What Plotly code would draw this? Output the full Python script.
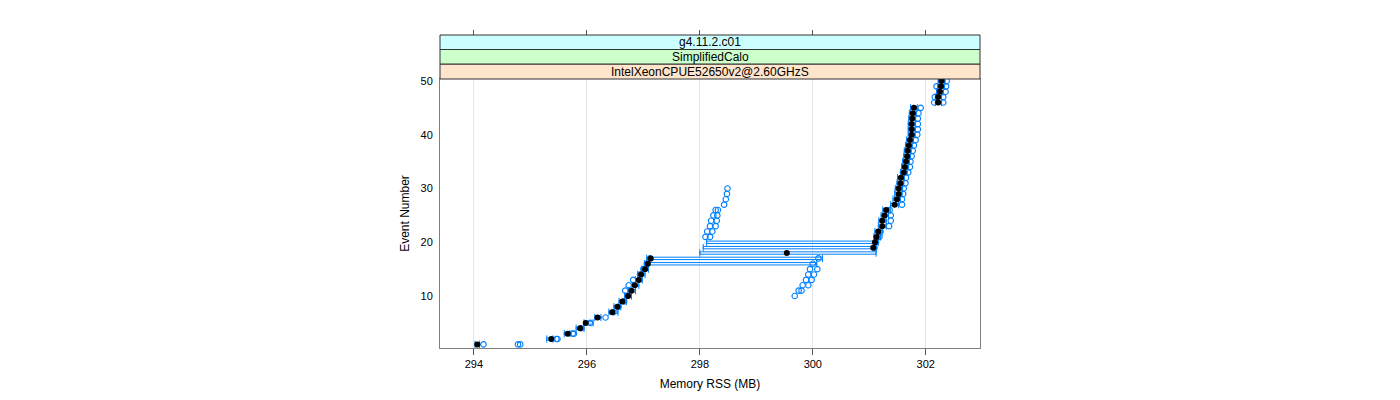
import plotly.graph_objects as go

# ---------------------------------------------------------------------------
# Data
# ---------------------------------------------------------------------------

events = list(range(1, 51))

# reference run (black filled points)
rss_black = [
    294.06, 295.37, 295.66, 295.88, 295.98, 296.19, 296.45, 296.54, 296.63, 296.73,
    296.79, 296.85, 296.92, 296.96, 297.03, 297.08, 297.13, 299.54, 301.07, 301.10,
    301.13, 301.16, 301.23, 301.23, 301.27, 301.30, 301.45, 301.49, 301.52, 301.52,
    301.55, 301.56, 301.61, 301.63, 301.65, 301.67, 301.68, 301.70, 301.72, 301.75,
    301.75, 301.75, 301.76, 301.77, 301.79, 302.22, 302.22, 302.25, 302.27, 302.28,
]

# error bar limits
rss_low = [
    294.02, 295.29, 295.60, 295.81, 295.95, 296.14, 296.39, 296.48, 296.57, 296.67,
    296.74, 296.80, 296.86, 296.90, 296.97, 297.02, 297.06, 298.00, 298.06, 298.12,
    301.08, 301.10, 301.16, 301.17, 301.21, 301.24, 301.38, 301.42, 301.45, 301.46,
    301.49, 301.50, 301.55, 301.57, 301.59, 301.61, 301.62, 301.64, 301.66, 301.69,
    301.69, 301.69, 301.70, 301.71, 301.73, 302.17, 302.17, 302.19, 302.21, 302.22,
]
rss_high = [
    294.10, 295.40, 295.70, 295.95, 296.11, 296.25, 296.55, 296.60, 296.70, 296.79,
    296.86, 296.92, 296.98, 297.03, 297.09, 300.07, 300.17, 301.12, 301.13, 301.16,
    301.20, 301.23, 301.30, 301.30, 301.34, 301.37, 301.52, 301.55, 301.58, 301.59,
    301.61, 301.62, 301.67, 301.69, 301.71, 301.73, 301.74, 301.76, 301.78, 301.81,
    301.81, 301.81, 301.82, 301.83, 301.85, 302.28, 302.28, 302.31, 302.33, 302.34,
]

# other runs (blue open circles), None where no point is visible
N = None
rss_run1 = [
    294.17, 295.46, 295.75, 295.90, 296.06, 296.33, 296.47, 296.56, 296.66, 296.72,
    296.68, 296.74, 296.82, 296.94, 297.00, 297.06, 297.12, N, 301.09, 301.12,
    301.18, 301.20, 301.35, 301.38, 301.38, 301.36, 301.58, 301.58, 301.60, 301.61,
    301.64, 301.65, 301.69, 301.72, 301.73, 301.75, 301.77, 301.79, 301.82, 301.85,
    301.86, 301.86, 301.86, 301.87, 301.91, 302.31, 302.31, 302.35, 302.36, 302.37,
]
rss_run2 = [
    294.78, 295.48, 295.77, N, N, N, N, N, N, 299.68,
    299.75, 299.82, 299.88, 299.92, 299.95, 300.00, 300.10, N, N, N,
    298.10, 298.13, 298.18, 298.20, 298.24, 298.28, 298.43, 298.46, 298.48, 298.49,
    N, N, N, N, N, N, N, N, N, N,
    N, N, N, N, N, 302.15, 302.16, N, 302.19, N,
]
rss_run3 = [
    294.82, N, N, N, N, N, N, N, N, N,
    299.80, 299.92, 299.98, 300.02, 300.08, N, N, N, N, N,
    298.18, 298.22, 298.28, 298.30, 298.31, 298.32, N, N, N, N,
    N, N, N, N, N, N, N, N, N, N,
    N, N, N, N, N, N, N, N, N, N,
]

x_ticks = [294, 296, 298, 300, 302]
y_ticks = [10, 20, 30, 40, 50]
strip_labels = ["IntelXeonCPUE52650v2@2.60GHzS", "SimplifiedCalo", "g4.11.2.c01"]

# ---------------------------------------------------------------------------
# Figure
# ---------------------------------------------------------------------------

BLUE = "#0080ff"
FONT = "Liberation Sans, Arial, sans-serif"
OFF = 8                         # page body margin
TOP, BOTTOM = 30 - OFF, 348 - OFF   # figure rows of the plotting area


def p(ypix):
    # screen pixel row -> paper fraction
    return (BOTTOM - (ypix - OFF)) / (BOTTOM - TOP)


fig = go.Figure()

err_plus = [h - b for h, b in zip(rss_high, rss_black)]
err_minus = [b - l for b, l in zip(rss_black, rss_low)]

# error bars drawn as two thin parallel bars
for dy in (0.22, -0.22):
    fig.add_trace(go.Scatter(
        x=rss_black, y=[e + dy for e in events], mode="markers",
        marker=dict(size=1, color="rgba(0,0,0,0)"),
        error_x=dict(type="data", symmetric=False, array=err_plus, arrayminus=err_minus,
                     color=BLUE, thickness=1, width=2.5),
        hoverinfo="skip", showlegend=False,
    ))

for run in (rss_run1, rss_run2, rss_run3):
    fig.add_trace(go.Scatter(
        x=run, y=events, mode="markers",
        marker=dict(symbol="circle-open", size=5.5, color=BLUE, line=dict(width=1.1, color=BLUE)),
        showlegend=False,
    ))

fig.add_trace(go.Scatter(
    x=rss_black, y=events, mode="markers",
    marker=dict(symbol="circle", size=6, color="black"),
    showlegend=False,
))

# dummy trace so the top tick axis is drawn
fig.add_trace(go.Scatter(x=[x_ticks[0]], y=[None], xaxis="x2", yaxis="y",
                         mode="markers", showlegend=False, hoverinfo="skip"))

# strips above the panel
strip_cols = ["#ffe5cc", "#ccffcc", "#ccffff"]
strip_edges = [(79, 64), (64, 49.5), (49.5, 35)]
for label, col, (b, t) in zip(strip_labels, strip_cols, strip_edges):
    fig.add_shape(type="rect", xref="paper", yref="paper", x0=0, x1=1, y0=p(b), y1=p(t),
                  fillcolor=col, line=dict(color="#333333", width=1), layer="above")
    fig.add_annotation(text=label, xref="paper", yref="paper", x=0.5, y=(p(b) + p(t)) / 2,
                       showarrow=False, font=dict(size=12, color="black", family=FONT),
                       yanchor="middle")

fig.update_layout(
    width=1400, height=400,
    margin=dict(l=440 - OFF, r=420 + OFF, t=TOP, b=400 - BOTTOM),
    paper_bgcolor="white", plot_bgcolor="white",
    font=dict(family=FONT, size=11, color="black"),
    xaxis=dict(
        range=[293.40, 302.96], tickvals=x_ticks, ticks="outside", ticklen=6,
        tickcolor="#555555", showgrid=True, gridcolor="#e6e6e6", gridwidth=1,
        zeroline=False, showline=True, mirror=True, linecolor="#808080", linewidth=1,
        title=dict(text="Memory RSS (MB)", font=dict(size=12), standoff=10),
        tickfont=dict(size=11),
    ),
    xaxis2=dict(
        overlaying="x", matches="x", anchor="free", position=p(35), side="top",
        tickvals=x_ticks, ticks="outside", ticklen=5, tickcolor="#555555",
        showticklabels=False, showgrid=False, zeroline=False, showline=False,
    ),
    yaxis=dict(
        domain=[0, p(79)], range=[0.33, 50.37], tickvals=y_ticks, ticks="",
        showgrid=False, zeroline=False, showline=True, mirror=True,
        linecolor="#808080", linewidth=1, ticklabelstandoff=4,
        title=dict(text="Event Number", font=dict(size=12), standoff=8),
        tickfont=dict(size=11),
    ),
)

fig.write_html("out.html")
